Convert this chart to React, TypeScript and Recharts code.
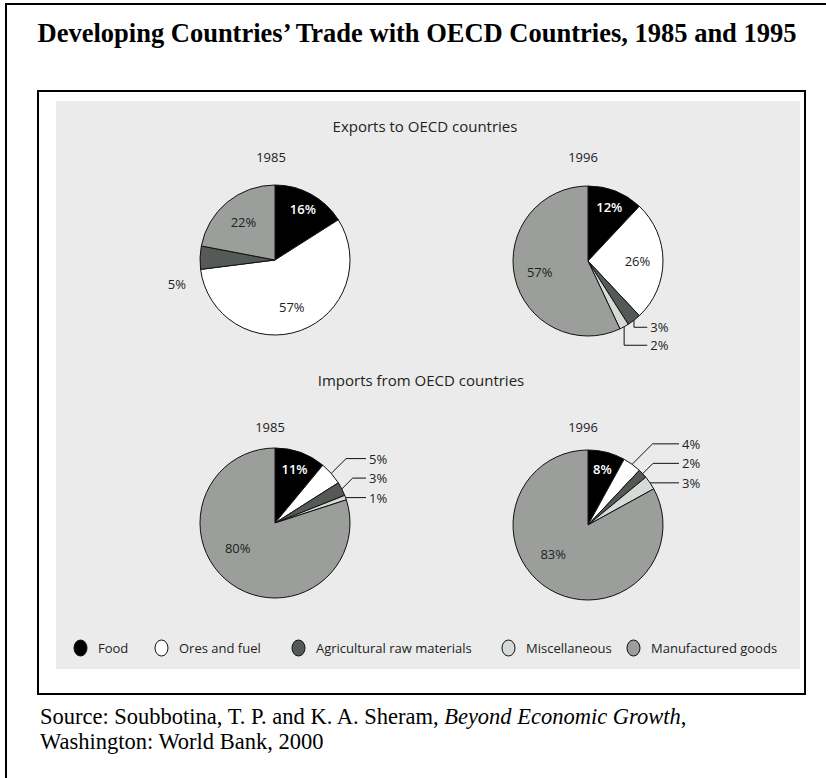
import { PieChart, Pie, Cell, Legend } from "recharts";

const CATEGORIES = [
  "Food",
  "Ores and fuel",
  "Agricultural raw materials",
  "Miscellaneous",
  "Manufactured goods",
];
const COLORS = ["#000000", "#ffffff", "#555a56", "#d6dbd7", "#9b9e9b"];

const EXPORTS_1985 = [16, 57, 5, 0, 22];
const EXPORTS_1996 = [12, 26, 3, 2, 57];
const IMPORTS_1985 = [11, 5, 3, 1, 80];
const IMPORTS_1996 = [8, 4, 2, 3, 83];

const FONT = "'Open Sans', 'Noto Sans', sans-serif";
const SERIF = "'Liberation Serif', 'Times New Roman', serif";
const R = 75;
// left edge of each legend marker (layout only)
const LEGEND_LEFT = [0, 81, 218, 428, 553];

type Callout = "left" | "down" | "up";
interface Slice {
  name: string;
  value: number;
  fill: string;
}

function toData(values: number[]): Slice[] {
  return CATEGORIES.map((name, i) => ({ name, value: values[i], fill: COLORS[i] })).filter(
    (d) => d.value > 0
  );
}

// point on a circle, angle in degrees clockwise from 12 o'clock
function pt(cx: number, cy: number, r: number, deg: number) {
  const a = (deg * Math.PI) / 180;
  return { x: cx + r * Math.sin(a), y: cy - r * Math.cos(a) };
}

function makeLabel(data: Slice[], callout: Callout) {
  const total = data.reduce((s, d) => s + d.value, 0);
  const mids: number[] = [];
  let acc = 0;
  data.forEach((d) => {
    mids.push(((acc + d.value / 2) / total) * 360);
    acc += d.value;
  });
  const small = data.map((_, i) => i).filter((i) => data[i].value < 6);

  return (p: any) => {
    const cx = Number(p.cx);
    const cy = Number(p.cy);
    const r = Number(p.outerRadius);
    const i = p.index as number;
    const d = data[i];
    const label = `${d.value}%`;

    if (d.value >= 6) {
      const isFood = d.name === "Food";
      const big = d.value > 70;
      const ang = mids[i] + (big ? 20 : 0);
      const pos = pt(cx, cy, r * (isFood ? 0.77 : big ? 0.6 : 0.66), ang);
      return (
        <text
          x={pos.x}
          y={pos.y}
          textAnchor="middle"
          dominantBaseline="central"
          fill={isFood ? "#ffffff" : "#222"}
          fontSize={13}
          fontWeight={isFood ? 600 : 400}
          fontFamily={FONT}
        >
          {label}
        </text>
      );
    }

    const edge = pt(cx, cy, r, mids[i]);
    const k = small.indexOf(i);
    const textProps = { fontSize: 13, fontFamily: FONT, fill: "#222", dominantBaseline: "central" as const };

    if (callout === "left") {
      return (
        <text x={cx - r - 14} y={cy + 24} textAnchor="end" {...textProps}>
          {label}
        </text>
      );
    }
    if (callout === "down") {
      const first = pt(cx, cy, r, mids[small[0]]);
      const rowY = first.y + 7 + k * 18;
      const end = cx + r * 0.79;
      return (
        <g>
          <path d={`M${edge.x},${edge.y}V${rowY}H${end}`} stroke="#111" fill="none" />
          <text x={end + 3} y={rowY} textAnchor="start" {...textProps}>
            {label}
          </text>
        </g>
      );
    }
    const last = pt(cx, cy, r, mids[small[small.length - 1]]);
    const rowY = last.y - (small.length - 1 - k) * 19.5;
    const elbowX = edge.x + (edge.y - rowY);
    const end = cx + r + 16;
    return (
      <g>
        <path d={`M${edge.x},${edge.y}L${elbowX},${rowY}H${end}`} stroke="#111" fill="none" />
        <text x={end + 3} y={rowY} textAnchor="start" {...textProps}>
          {label}
        </text>
      </g>
    );
  };
}

const PIES = [
  { key: "e85", values: EXPORTS_1985, cx: 270, cy: 255, callout: "left" as Callout },
  { key: "e96", values: EXPORTS_1996, cx: 583, cy: 256, callout: "down" as Callout },
  { key: "i85", values: IMPORTS_1985, cx: 270, cy: 518, callout: "up" as Callout },
  { key: "i96", values: IMPORTS_1996, cx: 583, cy: 520, callout: "up" as Callout },
];

function renderLegend() {
  return (
    <div style={{ position: "relative", height: 20, fontFamily: FONT, fontSize: 13, color: "#222" }}>
      {CATEGORIES.map((c, i) => (
        <div
          key={c}
          style={{
            position: "absolute",
            left: LEGEND_LEFT[i],
            top: 0,
            display: "flex",
            alignItems: "center",
            whiteSpace: "nowrap",
          }}
        >
          <svg width={15} height={18} style={{ marginRight: 10 }}>
            <ellipse cx={7.5} cy={9} rx={6.5} ry={8} fill={COLORS[i]} stroke="#111" strokeWidth={1} />
          </svg>
          <span>{c}</span>
        </div>
      ))}
    </div>
  );
}

const abs = (left: number, top: number, extra: any = {}) => ({
  position: "absolute" as const,
  left,
  top,
  ...extra,
});

export default function App() {
  const sub = { fontFamily: FONT, fontSize: 15, color: "#222", whiteSpace: "nowrap" as const };
  const yr = { fontFamily: FONT, fontSize: 13, color: "#222", width: 80, textAlign: "center" as const };
  return (
    <div
      style={{
        position: "absolute",
        left: 0,
        top: 0,
        width: 826,
        height: 778,
        overflow: "hidden",
        background: "#fff",
      }}
    >
      <div style={abs(5, 3, { width: 830, height: 790, border: "2px solid #000", boxSizing: "border-box" })} />
      <div
        style={abs(0, 18, {
          width: 834,
          textAlign: "center",
          fontFamily: SERIF,
          fontWeight: "bold",
          fontSize: 26.5,
          lineHeight: "30px",
          whiteSpace: "nowrap",
        })}
      >
        Developing Countries’ Trade with OECD Countries, 1985 and 1995
      </div>
      <div
        style={abs(37, 90, { width: 769, height: 605, border: "2px solid #000", boxSizing: "border-box" })}
      />
      <div style={abs(56, 101, { width: 744, height: 568, background: "#ebebeb" })} />

      <div style={abs(0, 116, { ...sub, width: 850, textAlign: "center" })}>Exports to OECD countries</div>
      <div style={abs(0, 370, { ...sub, width: 842, textAlign: "center" })}>Imports from OECD countries</div>
      <div style={abs(231, 148, yr)}>1985</div>
      <div style={abs(543, 148, yr)}>1996</div>
      <div style={abs(230, 418, yr)}>1985</div>
      <div style={abs(543, 418, yr)}>1996</div>

      <div style={abs(0, 0)}>
        <PieChart width={826} height={778}>
          {PIES.map((p) => {
            const data = toData(p.values);
            return (
              <Pie
                key={p.key}
                data={data}
                dataKey="value"
                nameKey="name"
                cx={p.cx}
                cy={p.cy}
                outerRadius={R}
                startAngle={90}
                endAngle={-270}
                stroke="#111"
                strokeWidth={1}
                labelLine={false}
                label={makeLabel(data, p.callout)}
                isAnimationActive={false}
              >
                {data.map((d) => (
                  <Cell key={d.name} fill={d.fill} />
                ))}
              </Pie>
            );
          })}
          <Legend
            content={renderLegend}
            wrapperStyle={{ position: "absolute", left: 73, top: 639, width: 720, height: 20 }}
          />
        </PieChart>
      </div>

      <div
        style={abs(40, 704, {
          fontFamily: SERIF,
          fontSize: 22.5,
          lineHeight: "25px",
          whiteSpace: "nowrap",
        })}
      >
        Source: Soubbotina, T. P. and K. A. Sheram, <i>Beyond Economic Growth</i>,
        <br />
        Washington: World Bank, 2000
      </div>
    </div>
  );
}
